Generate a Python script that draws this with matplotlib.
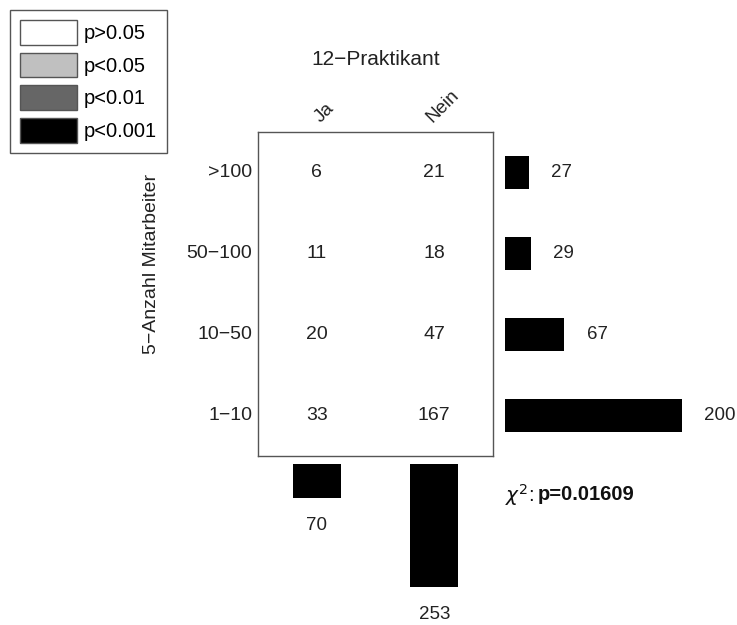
import matplotlib.pyplot as plt
from matplotlib.patches import Patch

plt.rcParams['font.family'] = ['Liberation Sans', 'DejaVu Sans']

# data
rows = ['>100', '50\u2212100', '10\u221250', '1\u221210']
cols = ['Ja', 'Nein']
counts = [[6, 21], [11, 18], [20, 47], [33, 167]]
row_totals = [27, 29, 67, 200]
col_totals = [70, 253]
p_value = 0.01609
legend_labels = ['p>0.05', 'p<0.05', 'p<0.01', 'p<0.001']
legend_colors = ['white', '#c0c0c0', '#666666', 'black']

W, H = 737, 625
fig = plt.figure(figsize=(W / 100, H / 100), dpi=100)
txt = '#222222'


def px_axes(x0, y0, x1, y1):
    # axes from pixel box (top-left origin)
    return fig.add_axes([x0 / W, 1 - y1 / H, (x1 - x0) / W, (y1 - y0) / H])


# main table
ax = px_axes(258, 132, 493, 456)
ax.set_xlim(-0.5, 1.5)
ax.set_ylim(3.5, -0.5)
ax.set_xticks([])
ax.set_yticks([])
for s in ax.spines.values():
    s.set_color('#555555')
    s.set_linewidth(1)
for i in range(len(rows)):
    for j in range(len(cols)):
        ax.text(j, i, str(counts[i][j]), ha='center', va='center', fontsize=14, color=txt)
    ax.text(-0.55, i, rows[i], ha='right', va='center', fontsize=14, color=txt)
for j in range(len(cols)):
    ax.text(j + 0.07, -0.58, cols[j], rotation=45, ha='center', va='bottom', fontsize=13.5,
            color=txt)
ax.text(0.5, -1.4, '12\u2212Praktikant', ha='center', va='center', fontsize=15, color=txt)
ax.text(-1.41, 1.13, '5\u2212Anzahl Mitarbeiter', rotation=90, ha='center', va='center',
        fontsize=14, color=txt, clip_on=False)

# row margin bars
axr = px_axes(505, 132, 505 + 177, 456)
axr.barh(range(len(rows)), row_totals, height=0.41, color='black')
axr.set_xlim(0, 200)
axr.set_ylim(3.5, -0.5)
axr.axis('off')
for i, v in enumerate(row_totals):
    axr.annotate(str(v), (v, i), xytext=(16, 0), textcoords='offset points',
                 ha='left', va='center', fontsize=13.5, color=txt, annotation_clip=False)

# column margin bars
axc = px_axes(258, 464, 493, 464 + 123)
axc.bar(range(len(cols)), col_totals, width=0.41, color='black')
axc.set_xlim(-0.5, 1.5)
axc.set_ylim(253, 0)
axc.axis('off')
for j, v in enumerate(col_totals):
    axc.annotate(str(v), (j, v), xytext=(0, -20), textcoords='offset points',
                 ha='center', va='center', fontsize=13.5, color=txt, annotation_clip=False)

fig.text(505 / W, 1 - 495 / H, r'$\chi^2$:', ha='left', va='center', fontsize=14.5, color='#111111')
fig.text(538 / W, 1 - 495 / H, 'p=' + str(p_value), ha='left', va='center', fontsize=14.5,
         fontweight='bold', color='#111111')

handles = [Patch(facecolor=c, edgecolor='#555555') for c in legend_colors]
fig.legend(handles, legend_labels, loc='upper left', bbox_to_anchor=(10 / W, 1 - 10 / H),
           fontsize=14.5, handlelength=2.85, handleheight=1.5, handletextpad=0.3,
           labelspacing=0.4, borderpad=0.5, borderaxespad=0, fancybox=False,
           edgecolor='#555555', framealpha=1)

fig.savefig('out.png', dpi=100)
